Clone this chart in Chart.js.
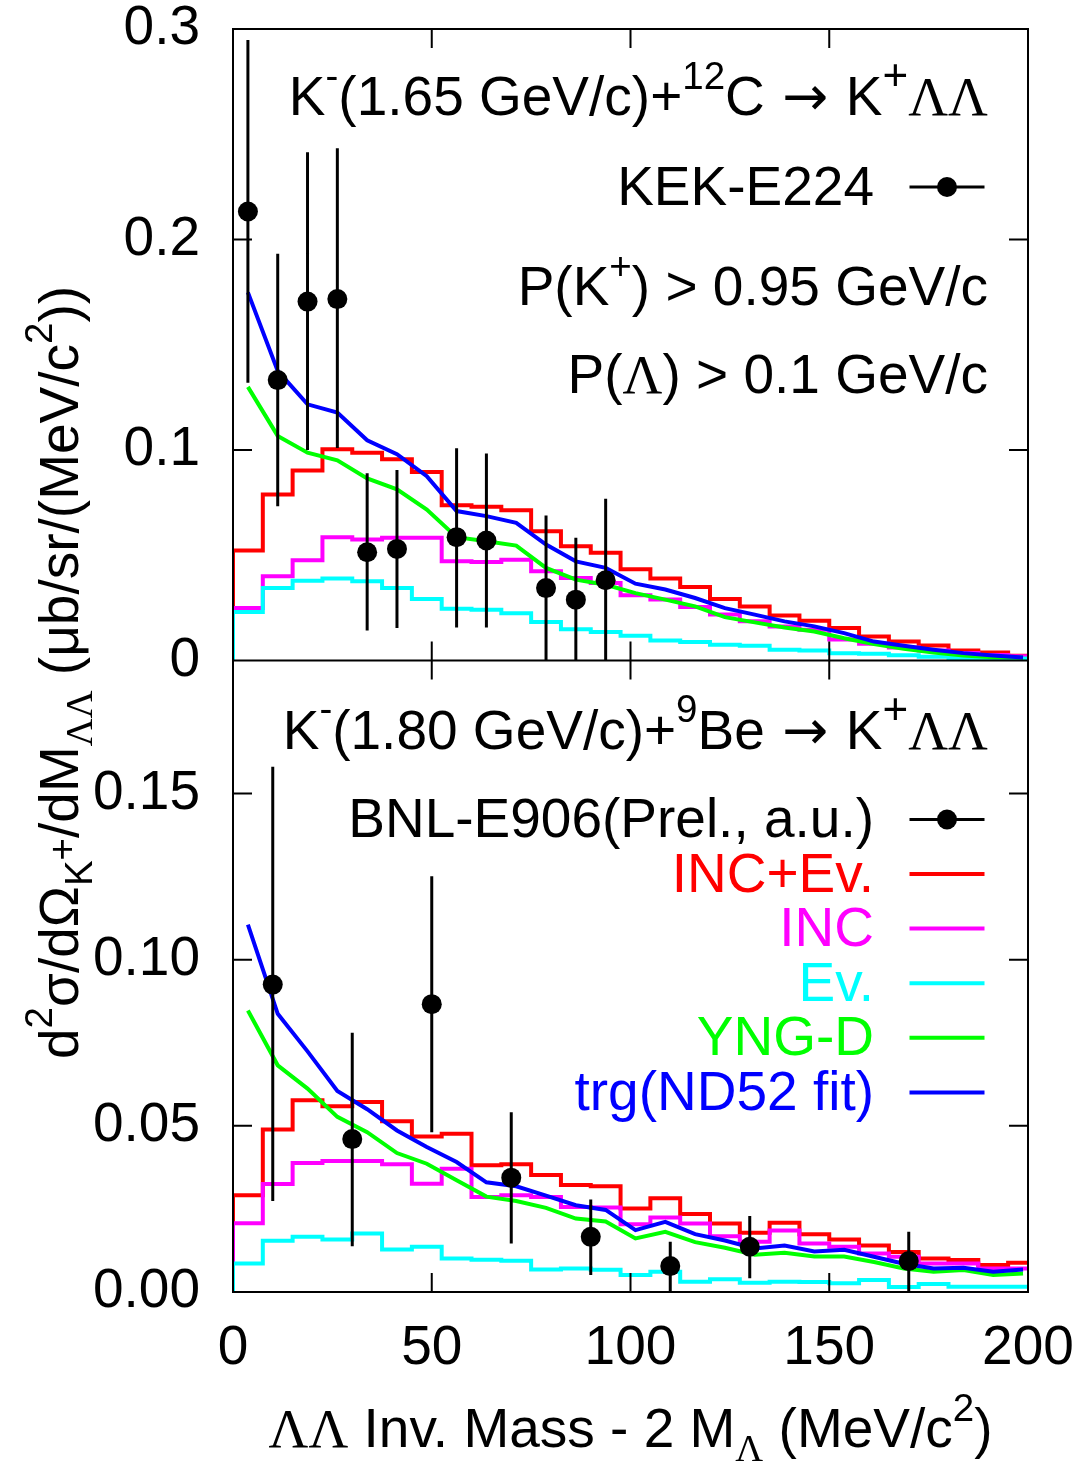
<!DOCTYPE html>
<html>
<head>
<meta charset="utf-8">
<script src="https://cdn.jsdelivr.net/npm/chart.js@4.4.1/dist/chart.umd.min.js"></script>
<style>
  html, body { margin: 0; padding: 0; background: #fff; }
  #wrap { width: 1076px; height: 1466px; position: relative; }
</style>
</head>
<body>
<div id="wrap"><canvas id="myChart"></canvas></div>
<script>
// bins of 7.5 MeV : left edges and centres
const binLeft = [0, 7.5, 15, 22.5, 30, 37.5, 45, 52.5, 60, 67.5, 75, 82.5, 90, 97.5, 105, 112.5, 120, 127.5, 135, 142.5, 150, 157.5, 165, 172.5, 180, 187.5, 195];
const binCenter = [3.75, 11.25, 18.75, 26.25, 33.75, 41.25, 48.75, 56.25, 63.75, 71.25, 78.75, 86.25, 93.75, 101.25, 108.75, 116.25, 123.75, 131.25, 138.75, 146.25, 153.75, 161.25, 168.75, 176.25, 183.75, 191.25, 198.75];

// upper panel : K-(1.65 GeV/c) + 12C
const topIncEv = [0.0522, 0.0789, 0.0903, 0.1003, 0.0987, 0.0956, 0.0895, 0.0738, 0.0730, 0.0714, 0.0614, 0.0543, 0.0512, 0.0433, 0.0389, 0.0349, 0.0292, 0.0257, 0.0214, 0.0189, 0.0154, 0.0114, 0.0090, 0.0071, 0.0048, 0.0038, 0.0022];
const topInc = [0.0249, 0.0400, 0.0476, 0.0586, 0.0575, 0.0583, 0.0583, 0.0471, 0.0468, 0.0479, 0.0424, 0.0392, 0.0368, 0.0310, 0.0290, 0.0254, 0.0218, 0.0186, 0.0162, 0.0146, 0.0100, 0.0080, 0.0062, 0.0048, 0.0036, 0.0026, 0.0020];
const topEv = [0.0230, 0.0344, 0.0379, 0.0389, 0.0376, 0.0344, 0.0292, 0.0246, 0.0241, 0.0225, 0.0183, 0.0149, 0.0135, 0.0117, 0.0095, 0.0088, 0.0075, 0.0070, 0.0051, 0.0048, 0.0035, 0.0032, 0.0025, 0.0018, 0.0012, 0.0010, 0.0010];
const topYngD = [0.1300, 0.1067, 0.0987, 0.0951, 0.0865, 0.0813, 0.0717, 0.0586, 0.0567, 0.0546, 0.0440, 0.0384, 0.0360, 0.0320, 0.0289, 0.0257, 0.0206, 0.0181, 0.0157, 0.0138, 0.0106, 0.0078, 0.0056, 0.0038, 0.0024, 0.0016, 0.0014];
const topTrg = [0.1749, 0.1376, 0.1217, 0.1178, 0.1046, 0.0980, 0.0876, 0.0710, 0.0686, 0.0654, 0.0551, 0.0471, 0.0440, 0.0365, 0.0337, 0.0297, 0.0249, 0.0218, 0.0186, 0.0162, 0.0130, 0.0090, 0.0070, 0.0051, 0.0035, 0.0024, 0.0014];
const kekX = [3.75, 11.25, 18.75, 26.25, 33.75, 41.25, 56.25, 63.75, 78.75, 86.25, 93.75];
const kekY = [0.2133, 0.1332, 0.1705, 0.1717, 0.0514, 0.0530, 0.0586, 0.0570, 0.0344, 0.0289, 0.0381];
const kekLo = [0.1320, 0.0733, 0.1000, 0.1010, 0.0143, 0.0154, 0.0157, 0.0157, 0.0, 0.0, 0.0];
const kekHi = [0.2948, 0.1932, 0.2414, 0.2433, 0.0889, 0.0905, 0.1008, 0.0983, 0.0689, 0.0583, 0.0768];

// lower panel : K-(1.80 GeV/c) + 9Be
const botIncEv = [0.0291, 0.0489, 0.0577, 0.0559, 0.0572, 0.0514, 0.0468, 0.0476, 0.0381, 0.0384, 0.0352, 0.0322, 0.0318, 0.0251, 0.0282, 0.0235, 0.0206, 0.0178, 0.0208, 0.0174, 0.0158, 0.0140, 0.0120, 0.0101, 0.0096, 0.0081, 0.0088];
const botInc = [0.0207, 0.0325, 0.0388, 0.0394, 0.0394, 0.0384, 0.0326, 0.0371, 0.0286, 0.0291, 0.0286, 0.0256, 0.0254, 0.0204, 0.0224, 0.0206, 0.0168, 0.0151, 0.0185, 0.0146, 0.0136, 0.0116, 0.0106, 0.0086, 0.0086, 0.0071, 0.0071];
const botEv = [0.0086, 0.0154, 0.0166, 0.0158, 0.0176, 0.0128, 0.0136, 0.0101, 0.0097, 0.0094, 0.0068, 0.0071, 0.0067, 0.0051, 0.0061, 0.0031, 0.0038, 0.0028, 0.0031, 0.0030, 0.0026, 0.0036, 0.0015, 0.0024, 0.0016, 0.0016, 0.0016];
const botYngD = [0.0847, 0.0682, 0.0612, 0.0527, 0.0481, 0.0418, 0.0386, 0.0336, 0.0287, 0.0274, 0.0253, 0.0221, 0.0212, 0.0161, 0.0181, 0.0150, 0.0133, 0.0112, 0.0118, 0.0107, 0.0107, 0.0090, 0.0071, 0.0061, 0.0066, 0.0051, 0.0056];
const botTrg = [0.1105, 0.0837, 0.0724, 0.0605, 0.0550, 0.0486, 0.0436, 0.0391, 0.0330, 0.0318, 0.0290, 0.0261, 0.0247, 0.0186, 0.0211, 0.0174, 0.0155, 0.0131, 0.0140, 0.0122, 0.0127, 0.0106, 0.0085, 0.0071, 0.0073, 0.0061, 0.0068];
const bnlX = [10, 30, 50, 70, 90, 110, 130, 170];
const bnlY = [0.0925, 0.0460, 0.0866, 0.0344, 0.0166, 0.0078, 0.0136, 0.0093];
const bnlLo = [0.0274, 0.0138, 0.0481, 0.0146, 0.0051, 0.0, 0.0041, 0.0];
const bnlHi = [0.1580, 0.0780, 0.1251, 0.0541, 0.0278, 0.0151, 0.0229, 0.0181];

const RED = '#ff0000', MAG = '#ff00ff', CYAN = '#00ffff', GREEN = '#00ff00', BLUE = '#0000ff';
const SANS = '"Liberation Sans", Arial, sans-serif';
const SERIF = '"Liberation Serif", "Times New Roman", serif';
const ARROW = '"DejaVu Sans", sans-serif';
const FS = 55;

function histo(vals) {
  const pts = [{x: 0, y: 0}];
  vals.forEach((v, i) => pts.push({x: binLeft[i], y: v}));
  pts.push({x: 200, y: vals[vals.length - 1]});
  return pts;
}
const curve = vals => binCenter.map((x, i) => ({x: x, y: vals[i]}));
const points = (xs, ys) => xs.map((x, i) => ({x: x, y: ys[i]}));
// vertical error bars : pairs of points split by a gap
const errBars = (xs, lo, hi) => xs.flatMap((x, i) => [{x: x, y: lo[i]}, {x: x, y: hi[i]}, {x: x, y: null}]);

function histSet(label, vals, color, axis, order) {
  return {label: label, data: histo(vals), yAxisID: axis, borderColor: color, borderWidth: 4,
    stepped: true, pointRadius: 0, borderJoinStyle: 'miter', order: order};
}
function lineSet(label, vals, color, axis, order) {
  return {label: label, data: curve(vals), yAxisID: axis, borderColor: color, borderWidth: 4,
    pointRadius: 0, tension: 0, order: order};
}
function errSet(label, xs, lo, hi, axis) {
  return {label: label, data: errBars(xs, lo, hi), yAxisID: axis, borderColor: '#000', borderWidth: 3,
    pointRadius: 0, spanGaps: false, order: 1};
}
function dataSet(label, xs, ys, axis) {
  return {label: label, data: points(xs, ys), yAxisID: axis, showLine: false, pointRadius: 10,
    pointBackgroundColor: '#000', pointBorderColor: '#000', pointBorderWidth: 0, order: 0};
}

// rich text with super/subscripts
const sup = t => ({t: t, s: 0.7, dy: -0.48});
const sub = (t, serif) => ({t: t, s: 0.7, dy: 0.25, fam: serif ? SERIF : SANS});
function partFont(p, size) { return (size * (p.s || 1)) + 'px ' + (p.fam || SANS); }
function richWidth(ctx, parts, size) {
  let w = 0;
  for (const p of parts) { ctx.font = partFont(p, size); w += ctx.measureText(p.t).width; }
  return w;
}
function drawRich(ctx, parts, x, y, size, align, color) {
  const w = richWidth(ctx, parts, size);
  let cx = align === 'right' ? x - w : align === 'center' ? x - w / 2 : x;
  ctx.fillStyle = color || '#000';
  ctx.textAlign = 'left';
  ctx.textBaseline = 'alphabetic';
  for (const p of parts) {
    ctx.font = partFont(p, size);
    ctx.fillText(p.t, cx, y + (p.dy || 0) * size);
    cx += ctx.measureText(p.t).width;
  }
}

const LL = {t: '\u039b\u039b', fam: SERIF};
const ARR = {t: ' \u2192 ', fam: ARROW};
const reacTop = [{t: 'K'}, sup('-'), {t: '(1.65 GeV/c)+'}, sup('12'), {t: 'C'}, ARR, {t: 'K'}, {t: '+', s: 0.8, dy: -0.45}, LL];
const reacBot = [{t: 'K'}, sup('-'), {t: '(1.80 GeV/c)+'}, sup('9'), {t: 'Be'}, ARR, {t: 'K'}, {t: '+', s: 0.8, dy: -0.45}, LL];
const cutK = [{t: 'P(K'}, sup('+'), {t: ') > 0.95 GeV/c'}];
const cutL = [{t: 'P('}, {t: '\u039b', fam: SERIF}, {t: ') > 0.1 GeV/c'}];
const yTitle = [{t: 'd'}, sup('2'), {t: '\u03c3/d\u03a9'}, sub('K'), {t: '+', s: 0.7, dy: -0.05}, {t: '/dM'}, sub('\u039b\u039b', true),
  {t: ' (\u03bcb/sr/(MeV/c'}, sup('2'), {t: '))'}];
const xTitle = [LL, {t: ' Inv. Mass - 2 M'}, sub('\u039b', true), {t: ' (MeV/c'}, sup('2'), {t: ')'}];

const legendRows = [
  {text: 'INC+Ev.', color: RED},
  {text: 'INC', color: MAG},
  {text: 'Ev.', color: CYAN},
  {text: 'YNG-D', color: GREEN},
  {text: 'trg(ND52 fit)', color: BLUE}
];

const decor = {
  id: 'decor',
  afterDraw(chart) {
    const ctx = chart.ctx, a = chart.chartArea;
    const x = chart.scales.x, yt = chart.scales.yTop, yb = chart.scales.yBot;
    ctx.save();
    // frames
    ctx.strokeStyle = '#000';
    ctx.lineWidth = 2;
    ctx.strokeRect(a.left, a.top, a.right - a.left, a.bottom - a.top);
    ctx.beginPath();
    ctx.moveTo(a.left, yt.bottom); ctx.lineTo(a.right, yt.bottom);
    // inward ticks
    const tl = 19;
    for (const t of x.ticks) {
      const px = x.getPixelForValue(t.value);
      for (const [py, dir] of [[yt.top, 1], [yt.bottom, -1], [yb.top, 1], [yb.bottom, -1]]) {
        ctx.moveTo(px, py); ctx.lineTo(px, py + dir * tl);
      }
    }
    for (const s of [yt, yb]) {
      for (const t of s.ticks) {
        const py = s.getPixelForValue(t.value);
        ctx.moveTo(a.left, py); ctx.lineTo(a.left + tl, py);
        ctx.moveTo(a.right, py); ctx.lineTo(a.right - tl, py);
      }
    }
    ctx.stroke();

    // texts upper panel
    const rx = a.right - 40, lx = a.right - 154;
    const s0 = a.right - 118.5, s1 = a.right - 43.5;
    drawRich(ctx, reacTop, rx, yt.top + 86, FS, 'right');
    drawRich(ctx, [{t: 'KEK-E224'}], lx, yt.top + 176, FS, 'right');
    drawRich(ctx, cutK, rx, yt.top + 276, FS, 'right');
    drawRich(ctx, cutL, rx, yt.top + 364, FS, 'right');
    const drawDataKey = yy => {
      ctx.strokeStyle = '#000'; ctx.lineWidth = 3;
      ctx.beginPath(); ctx.moveTo(s0, yy); ctx.lineTo(s1, yy); ctx.stroke();
      ctx.fillStyle = '#000';
      ctx.beginPath(); ctx.arc((s0 + s1) / 2, yy, 10, 0, Math.PI * 2); ctx.fill();
    };
    drawDataKey(yt.top + 158);

    // texts lower panel
    drawRich(ctx, reacBot, rx, yb.top + 88, FS, 'right');
    drawRich(ctx, [{t: 'BNL-E906(Prel., a.u.)'}], lx, yb.top + 176, FS, 'right');
    drawDataKey(yb.top + 159);
    legendRows.forEach((r, i) => {
      const base = yb.top + 231 + i * 54.6;
      drawRich(ctx, [{t: r.text}], lx, base, FS, 'right', r.color);
      ctx.strokeStyle = r.color; ctx.lineWidth = 4;
      ctx.beginPath(); ctx.moveTo(s0, base - 17.5); ctx.lineTo(s1, base - 17.5); ctx.stroke();
    });

    // axis titles
    drawRich(ctx, xTitle, (a.left + a.right) / 2, 1447, FS, 'center');
    ctx.translate(78, (a.top + a.bottom) / 2 + 12);
    ctx.rotate(-Math.PI / 2);
    drawRich(ctx, yTitle, 0, 0, FS, 'center');
    ctx.restore();
  }
};

const data = {
  datasets: [
    dataSet('KEK-E224', kekX, kekY, 'yTop'),
    errSet('KEK-E224 errors', kekX, kekLo, kekHi, 'yTop'),
    lineSet('trg(ND52 fit) 12C', topTrg, BLUE, 'yTop', 2),
    lineSet('YNG-D 12C', topYngD, GREEN, 'yTop', 3),
    histSet('Ev. 12C', topEv, CYAN, 'yTop', 4),
    histSet('INC 12C', topInc, MAG, 'yTop', 5),
    histSet('INC+Ev. 12C', topIncEv, RED, 'yTop', 6),
    dataSet('BNL-E906', bnlX, bnlY, 'yBot'),
    errSet('BNL-E906 errors', bnlX, bnlLo, bnlHi, 'yBot'),
    lineSet('trg(ND52 fit) 9Be', botTrg, BLUE, 'yBot', 2),
    lineSet('YNG-D 9Be', botYngD, GREEN, 'yBot', 3),
    histSet('Ev. 9Be', botEv, CYAN, 'yBot', 4),
    histSet('INC 9Be', botInc, MAG, 'yBot', 5),
    histSet('INC+Ev. 9Be', botIncEv, RED, 'yBot', 6)
  ]
};

// no extra room for overhanging labels, the layout padding alone sets the plot box
const noPad = s => { s.paddingLeft = 0; s.paddingRight = 0; s.paddingTop = 0; s.paddingBottom = 0; };
const tickFont = {family: SANS, size: FS};
const config = {
  type: 'line',
  data: data,
  options: {
    responsive: true,
    maintainAspectRatio: false,
    devicePixelRatio: 1,
    animation: false,
    layout: {padding: {top: 29, right: 48, left: 0, bottom: 0}},
    plugins: {legend: {display: false}, tooltip: {enabled: false}},
    scales: {
      x: {
        type: 'linear', position: 'bottom', min: 0, max: 200,
        grid: {display: false, drawTicks: false}, border: {display: false},
        ticks: {stepSize: 50, color: '#000', font: tickFont, padding: 24, maxRotation: 0},
        afterFit: s => { s.height = 174; noPad(s); }
      },
      yBot: {
        type: 'linear', position: 'left', stack: 'panels', stackWeight: 1, min: 0, max: 0.19,
        grid: {display: false, drawTicks: false}, border: {display: false},
        ticks: {stepSize: 0.05, includeBounds: false, color: '#000', font: tickFont, padding: 33,
          callback: v => v.toFixed(2)},
        afterFit: s => { s.width = 233; noPad(s); }
      },
      yTop: {
        type: 'linear', position: 'left', stack: 'panels', stackWeight: 1, min: 0, max: 0.3,
        grid: {display: false, drawTicks: false}, border: {display: false},
        ticks: {stepSize: 0.1, color: '#000', font: tickFont, padding: 33,
          callback: v => v === 0 ? '0' : v.toFixed(1)},
        afterFit: s => { s.width = 233; noPad(s); }
      }
    }
  },
  plugins: [decor]
};

const myChart = new Chart(document.getElementById('myChart'), config);
</script>
</body>
</html>
